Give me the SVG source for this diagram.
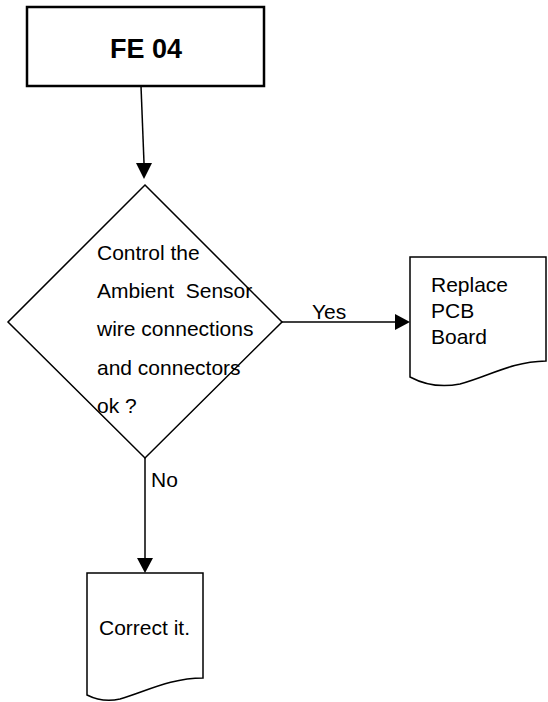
<svg xmlns="http://www.w3.org/2000/svg" width="548" height="702" viewBox="0 0 548 702">
<defs>
<style>
.shape{fill:#fff;stroke:#000;stroke-width:1.5}
.t{font-family:"Liberation Sans",Arial,sans-serif;font-size:21px;fill:#000}
.line{stroke:#000;stroke-width:1.5;fill:none}
</style>
<marker id="arr" markerWidth="10" markerHeight="10" refX="10" refY="5" orient="auto" markerUnits="userSpaceOnUse" viewBox="0 0 10 10">
<path d="M0,0 L10,5 L0,10 Z" fill="#000"/>
</marker>
</defs>
<rect width="548" height="702" fill="#fff"/>
<g id="connectors">
<path class="line" d="M141,86 L144,163"/>
<path d="M136,163 L152,163 L144,179 Z" fill="#000"/>
<path class="line" d="M282,322 L396,322"/>
<path d="M395,314 L410,322 L395,330 Z" fill="#000"/>
<text class="t" x="312" y="319">Yes</text>
<path class="line" d="M145,458 L145,558"/>
<path d="M137,558 L153,558 L145,573 Z" fill="#000"/>
<text class="t" x="151" y="487">No</text>
</g>
<g id="start">
<rect x="27" y="7" width="237" height="79" fill="#fff" stroke="#000" stroke-width="2.5"/>
<text x="146" y="58" text-anchor="middle" style="font-family:'Liberation Sans',Arial,sans-serif;font-size:27px;font-weight:bold">FE 04</text>
</g>
<g id="decision">
<polygon class="shape" points="145,185 282,322 145,458 8,322"/>
<text class="t" x="97" y="260">Control the</text>
<text class="t" x="97" y="298" xml:space="preserve">Ambient  Sensor</text>
<text class="t" x="97" y="336">wire connections</text>
<text class="t" x="97" y="375">and connectors</text>
<text class="t" x="97" y="413">ok ?</text>
</g>
<g id="replace">
<path class="shape" d="M410,257 H546 V361 C510,362 490,376 460,384 C440,388 425,385 410,377 Z"/>
<text class="t" x="431" y="292">Replace</text>
<text class="t" x="431" y="318">PCB</text>
<text class="t" x="431" y="344">Board</text>
</g>
<g id="correct">
<path class="shape" d="M87,573 H203 V678 C170,678 145,692 120,699 C107,702 97,700 87,695 Z"/>
<text class="t" x="99" y="635">Correct it.</text>
</g>
</svg>
